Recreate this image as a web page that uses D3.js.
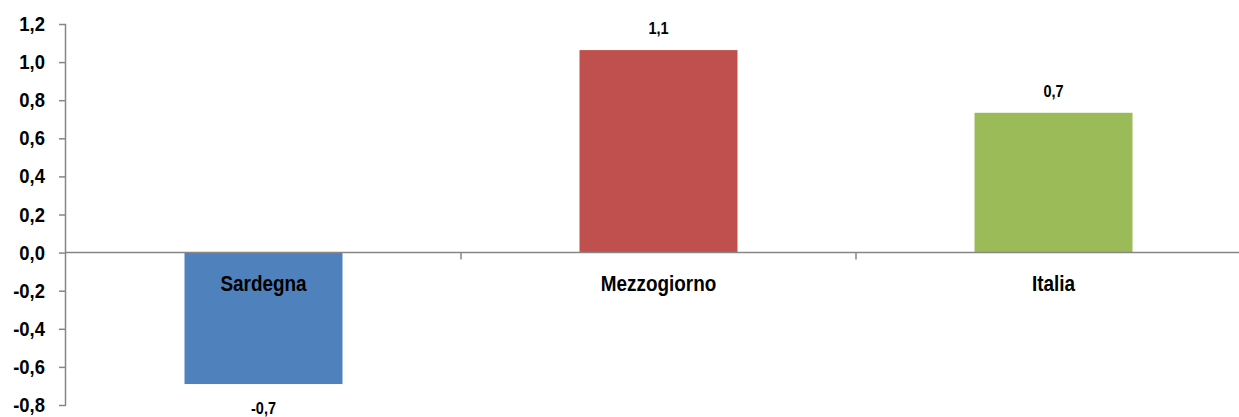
<!DOCTYPE html>
<html><head><meta charset="utf-8">
<script src="https://cdn.jsdelivr.net/npm/d3@7"></script>
<style>
html,body{margin:0;padding:0;background:#fff;}
svg{display:block;}
text{font-family:"Liberation Sans Narrow","Arial Narrow","Liberation Sans",Arial,sans-serif;font-weight:bold;fill:#000;}
</style></head>
<body>
<svg id="chart" width="1239" height="417"></svg>
<script>
const categories = ["Sardegna", "Mezzogiorno", "Italia"];
const values = [-0.69, 1.063, 0.734];
const valueLabels = ["-0,7", "1,1", "0,7"];
const colors = ["#4F81BD", "#C0504D", "#9BBB59"];
const yTicks = [1.2, 1.0, 0.8, 0.6, 0.4, 0.2, 0.0, -0.2, -0.4, -0.6, -0.8];

(function () {
const svg = d3.select("#chart");
const mLeft = 66, mRight = 1251, mTop = 24, mBottom = 405;
const axisColor = "#868686";
const sxTick = 0.9, sxCat = 0.86, sxVal = 0.88;

const x = d3.scaleBand().domain(categories).range([mLeft, mRight]).paddingInner(0.6).paddingOuter(0.3);
const y = d3.scaleLinear().domain([-0.8, 1.2]).range([mBottom, mTop]);
const fmt = d => d.toFixed(1).replace(".", ",");

// bars
svg.append("g").selectAll("rect").data(categories).join("rect")
  .attr("x", d => x(d))
  .attr("width", x.bandwidth())
  .attr("y", (d, i) => y(Math.max(0, values[i])))
  .attr("height", (d, i) => Math.abs(y(values[i]) - y(0)))
  .attr("fill", (d, i) => colors[i]);

// y axis
const yAxis = svg.append("g").attr("transform", `translate(${mLeft},0)`)
  .call(d3.axisLeft(y).tickValues(yTicks).tickFormat(fmt).tickSize(7).tickPadding(14));
yAxis.select(".domain").attr("stroke", axisColor).attr("stroke-width", 1.5).attr("d", `M-0.5,${mTop}V${mBottom}`);
yAxis.selectAll(".tick line").attr("stroke", axisColor).attr("stroke-width", 1.5);
yAxis.selectAll(".tick text").style("font-size", "20.5px").attr("fill", "#000")
  .attr("x", -21 / sxTick).attr("transform", `scale(${sxTick},1)`);

// x axis at zero
const step = x.step();
const boundaries = [1, 2].map(i => mLeft + i * step);
const xg = svg.append("g");
xg.append("line").attr("x1", mLeft).attr("x2", mRight).attr("y1", y(0)).attr("y2", y(0))
  .attr("stroke", axisColor).attr("stroke-width", 1.5);
xg.selectAll("line.tk").data(boundaries).join("line").attr("class", "tk")
  .attr("x1", d => d).attr("x2", d => d).attr("y1", y(0)).attr("y2", y(0) + 7)
  .attr("stroke", axisColor).attr("stroke-width", 1.5);

// category labels
svg.append("g").selectAll("text").data(categories).join("text")
  .attr("transform", d => `translate(${x(d) + x.bandwidth() / 2},${y(0) + 30}) scale(${sxCat},1)`)
  .attr("text-anchor", "middle").attr("dominant-baseline", "central")
  .style("font-size", "22px")
  .text(d => d);

// value labels
svg.append("g").selectAll("text").data(categories).join("text")
  .attr("transform", (d, i) => `translate(${x(d) + x.bandwidth() / 2},${values[i] >= 0 ? y(values[i]) - 22 : y(values[i]) + 24}) scale(${sxVal},1)`)
  .attr("text-anchor", "middle").attr("dominant-baseline", "central")
  .style("font-size", "16.5px")
  .text((d, i) => valueLabels[i]);
})();
</script>
</body></html>
